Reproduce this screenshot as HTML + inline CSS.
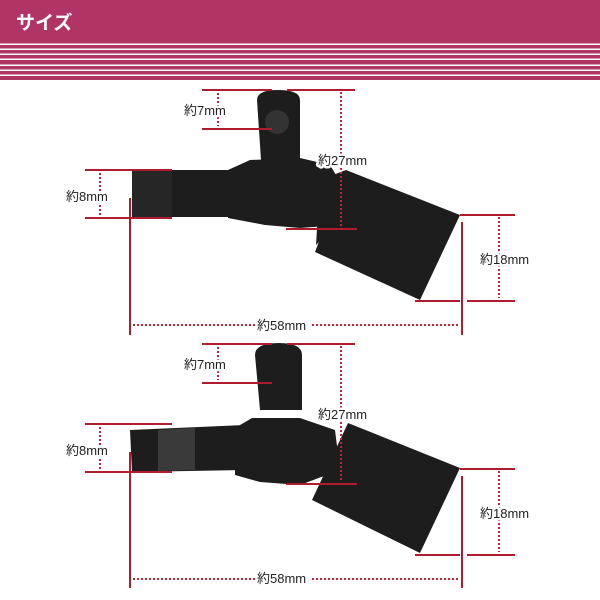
<!DOCTYPE html>
<html><head><meta charset="utf-8"><style>
html,body{margin:0;padding:0;background:#fff}
svg{display:block}
text{font-family:"Liberation Sans","Noto Sans CJK JP",sans-serif;font-size:13px;fill:#222;stroke:#fff;stroke-width:5px;paint-order:stroke;stroke-linejoin:round}
</style></head><body>
<svg width="600" height="600" viewBox="0 0 600 600">
<rect x="0" y="0" width="600" height="80" fill="#b03565"/>
<g fill="#fff">
<rect y="43.5" width="600" height="1.5"/><rect y="48.5" width="600" height="1.5"/><rect y="53.5" width="600" height="1.5"/><rect y="58.5" width="600" height="1.5"/><rect y="64.5" width="600" height="1.5"/><rect y="69.5" width="600" height="1.5"/><rect y="74.5" width="600" height="1.5"/>
</g>
<text x="16" y="29" style="font-size:19px;font-weight:bold;fill:#fff;stroke:none">サイズ</text>

<!-- top sensor -->
<g fill="#1d1d1d">
<path d="M257 100 Q257 90 278 90 Q300 90 300 100 L300 175 L262 175 Z"/>
<rect x="132" y="170" width="105" height="47"/>
<path d="M228 170 L250 160 L300 158 L330 165 L345 190 L340 225 L300 228 L265 225 L228 218 Z"/>
<path d="M346 170 L460 215 L420 300 L315 252 Z"/>
<path d="M320 180 L346 170 L330 230 L316 245 Z"/>
</g>
<circle cx="277" cy="122" r="12" fill="#333"/>
<rect x="132" y="170" width="40" height="47" fill="#262626"/>

<!-- bottom sensor -->
<g fill="#1d1d1d">
<path d="M255 355 Q255 343 279 343 Q302 343 302 355 L302 410 L260 410 Z"/>
<path d="M130 430 L245 425 L245 470 L132 472 Z"/>
<path d="M235 428 L252 418 L300 418 L335 430 L340 470 L300 485 L260 482 L235 475 Z"/>
<path d="M348 423 L460 468 L420 553 L312 500 Z"/>
</g>
<path d="M158 430 L195 428 L195 470 L158 471 Z" fill="#3a3a3a"/>

<g stroke="#b01c2e" stroke-width="2" fill="none">
<path d="M202 90H272M287 90H355M202 129H272M286 229H357M85 170H172M85 218H172M130 198V335M460 215H515M415 301H460M467 301H515M462 222V335"/>
<path d="M202 344H272M287 344H355M202 383H272M286 484H357M85 424H172M85 472H172M130 452V588M460 469H515M415 555H460M467 555H515M462 476V588"/>
</g>
<g stroke="#c0243a" stroke-width="2" fill="none" stroke-dasharray="2 2">
<path d="M218 93V126M341 92V226M100 173V215M499 217V298M133 325H255M312 325H460"/>
<path d="M218 347V380M341 346V480M100 427V469M499 471V552M133 579H255M312 579H460"/>
</g>
<g>
<text x="184" y="115">約7mm</text>
<text x="318" y="165">約27mm</text>
<text x="66" y="201">約8mm</text>
<text x="480" y="264">約18mm</text>
<text x="257" y="330">約58mm</text>
<text x="184" y="369">約7mm</text>
<text x="318" y="419">約27mm</text>
<text x="66" y="455">約8mm</text>
<text x="480" y="518">約18mm</text>
<text x="257" y="583">約58mm</text>
</g>
</svg>
</body></html>
